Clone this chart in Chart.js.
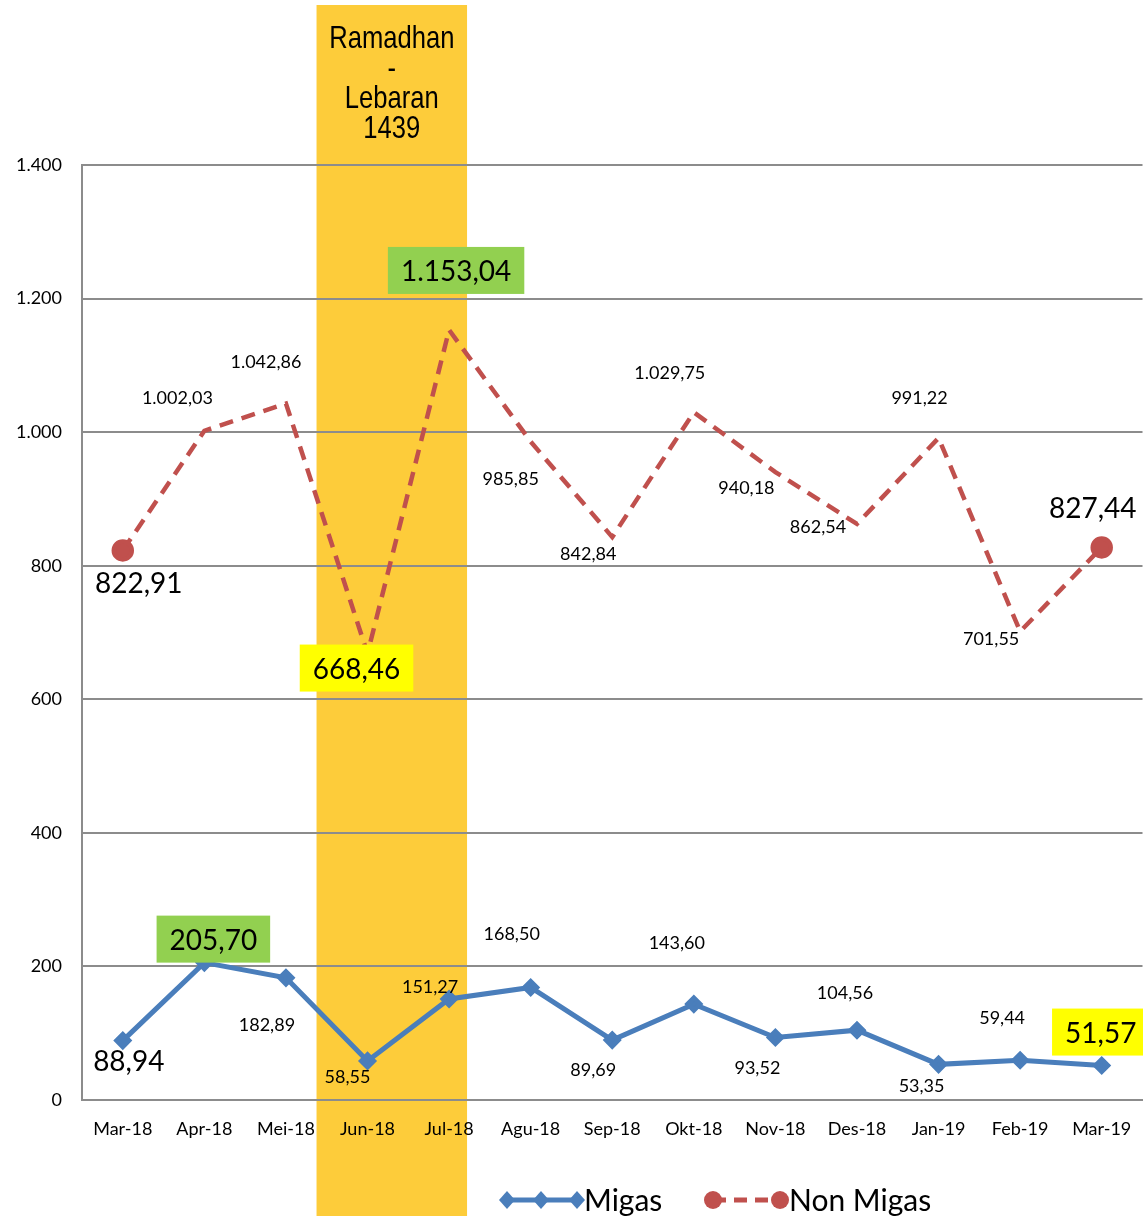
<!DOCTYPE html>
<html>
<head>
<meta charset="utf-8">
<script src="https://cdn.jsdelivr.net/npm/chart.js@4"></script>
<style>
html,body{margin:0;padding:0;background:#fff;overflow:hidden}
/* a bit wider than the window: chart.js keeps ~13px free on the right for the last tick */
#wrap{width:1156px;height:1216px}
canvas{display:block}
</style>
</head>
<body>
<div id="wrap"><canvas id="myChart"></canvas></div>
<script>
const months=['Mar-18','Apr-18','Mei-18','Jun-18','Jul-18','Agu-18','Sep-18','Okt-18','Nov-18','Des-18','Jan-19','Feb-19','Mar-19'];
const migas=[88.94,205.70,182.89,58.55,151.27,168.50,89.69,143.60,93.52,104.56,53.35,59.44,51.57];
const nonMigas=[822.91,1002.03,1042.86,668.46,1153.04,985.85,842.84,1029.75,940.18,862.54,991.22,701.55,827.44];
const bandText=['Ramadhan','-','Lebaran','1439'];

// label placement (offset from point, font size, box colour)
const migasLabels=[
  [6,20,28],[9,-23,28,'#92D050'],[-19,46,18],[-20,15,18],[-19,-13,18],[-19,-54,18],[-19,29,18],
  [-17,-62,18],[-18,30,18],[-12,-38,18],[-17,21,18],[-18,-43,18],[-1,-33,28,'#FFFF00']
];
const nonMigasLabels=[
  [16,33,28],[-27,-34,18],[-20,-42,18],[-11,15,28,'#FFFF00'],[7,-59,28,'#92D050'],[-20,37,18],[-24,16,18],
  [-24,-40,18],[-29,15,18],[-39,2,18],[-19,-41,18],[-29,7,18],[-9,-39,28]
];

const BLUE='#4A7EBB', RED='#C0504D', FONT='Lato, "Open Sans", sans-serif';

function fmt(v,dec){
  let s=v.toFixed(dec).split('.');
  s[0]=s[0].replace(/\B(?=(\d{3})+(?!\d))/g,'.');
  return s.length>1 ? s[0]+','+s[1] : s[0];
}

const bandPlugin={
  id:'band',
  beforeDraw(chart){
    const ctx=chart.ctx, x=chart.scales.x;
    const x0=x.getPixelForValue(3-0.625), x1=x.getPixelForValue(4+0.22);
    ctx.save();
    ctx.fillStyle='#FDCC3A';
    ctx.fillRect(x0,5,x1-x0,chart.height-5);
    ctx.fillStyle='#000';
    ctx.font='32px "Liberation Sans", Arial, sans-serif';
    ctx.textAlign='center';ctx.textBaseline='middle';
    ctx.translate((x0+x1)/2,0);
    ctx.scale(0.8,1);
    bandText.forEach((t,i)=>ctx.fillText(t,0,39+i*30));
    ctx.restore();
  }
};

const labelPlugin={
  id:'labels',
  afterDatasetsDraw(chart){
    const ctx=chart.ctx;
    const sets=[migasLabels,nonMigasLabels];
    chart.data.datasets.forEach((ds,di)=>{
      const meta=chart.getDatasetMeta(di);
      meta.data.forEach((pt,i)=>{
        const [dx,dy,size,bg]=sets[di][i];
        const txt=fmt(ds.data[i],2);
        const cx=pt.x+dx, cy=pt.y+dy;
        ctx.save();
        ctx.font=size+'px '+FONT;
        ctx.textAlign='center';ctx.textBaseline='middle';
        if(bg){
          const w=ctx.measureText(txt).width+26;
          ctx.fillStyle=bg;
          ctx.fillRect(cx-w/2,cy-24,w,47);
        }
        ctx.fillStyle='#000';
        ctx.fillText(txt,cx,cy+1);
        ctx.restore();
      });
    });
  },
  afterDraw(chart){
    const ctx=chart.ctx, y=1200;
    ctx.save();
    // Migas
    ctx.strokeStyle=BLUE;ctx.fillStyle=BLUE;ctx.lineWidth=5;
    ctx.beginPath();ctx.moveTo(503,y);ctx.lineTo(580,y);ctx.stroke();
    [507,541,577].forEach(px=>{
      ctx.beginPath();ctx.moveTo(px,y-9);ctx.lineTo(px+8,y);ctx.lineTo(px,y+9);ctx.lineTo(px-8,y);ctx.closePath();ctx.fill();
    });
    ctx.fillStyle='#000';ctx.font='30px '+FONT;ctx.textBaseline='middle';ctx.textAlign='left';
    ctx.fillText('Migas',584,y+1);
    // Non Migas
    ctx.strokeStyle=RED;ctx.fillStyle=RED;ctx.lineWidth=5;ctx.setLineDash([13,8]);
    ctx.beginPath();ctx.moveTo(713,y);ctx.lineTo(780,y);ctx.stroke();
    ctx.setLineDash([]);
    [713,780].forEach(px=>{ctx.beginPath();ctx.arc(px,y,9,0,Math.PI*2);ctx.fill();});
    ctx.fillStyle='#000';
    ctx.fillText('Non Migas',789,y+1);
    ctx.restore();
  }
};

window.addEventListener('load',()=>{
  const ctx=document.getElementById('myChart').getContext('2d');
  new Chart(ctx,{
    type:'line',
    data:{
      labels:months,
      datasets:[{
        label:'Migas',
        data:migas,
        borderColor:BLUE,backgroundColor:BLUE,
        borderWidth:5,
        pointStyle:'rectRot',pointRadius:6,pointHoverRadius:6,
        tension:0
      },{
        label:'Non Migas',
        data:nonMigas,
        borderColor:RED,backgroundColor:RED,
        borderWidth:4.5,borderDash:[14,9],
        pointStyle:'circle',
        pointRadius:nonMigas.map((v,i)=>(i===0||i===nonMigas.length-1)?9:0),
        tension:0
      }]
    },
    options:{
      responsive:true,maintainAspectRatio:false,animation:false,
      layout:{padding:{top:165,left:0,right:0,bottom:0}},
      plugins:{legend:{display:false},tooltip:{enabled:false}},
      scales:{
        x:{
          offset:true,
          grid:{display:true,drawOnChartArea:false,drawTicks:true,tickLength:18,tickColor:'rgba(0,0,0,0)'},
          border:{display:true,color:'#8c8c8c',width:2},
          ticks:{color:'#000',font:{family:FONT,size:18},padding:0,maxRotation:0,autoSkip:false},
          afterFit(s){s.height=116;s.paddingLeft=0;s.paddingRight=0;}
        },
        y:{
          min:0,max:1400,
          grid:{color:'#8c8c8c',lineWidth:2,drawTicks:false},
          border:{display:true,color:'#8c8c8c',width:2},
          ticks:{stepSize:200,color:'#000',font:{family:FONT,size:18},padding:20,callback:v=>fmt(v,0)},
          afterFit(s){s.width=82;}
        }
      }
    },
    plugins:[bandPlugin,labelPlugin]
  });
});
</script>
</body>
</html>
